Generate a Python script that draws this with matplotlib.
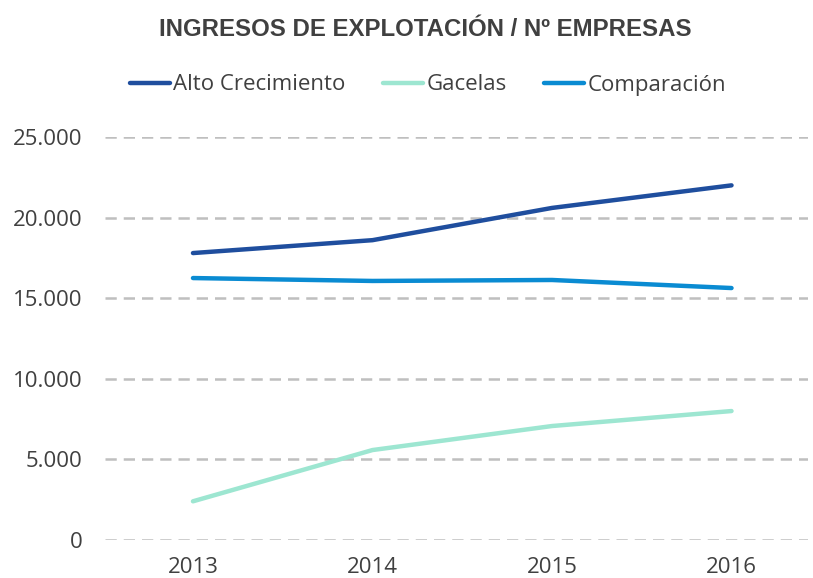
import matplotlib
matplotlib.use("Agg")
import matplotlib.pyplot as plt
from matplotlib.ticker import FuncFormatter

years = ["2013", "2014", "2015", "2016"]
alto_crecimiento = [17800, 18600, 20600, 22000]
gacelas = [2400, 5580, 7070, 8000]
comparacion = [16250, 16070, 16130, 15630]
y_ticks = [0, 5000, 10000, 15000, 20000, 25000]

W, H = 813, 578
fig = plt.figure(figsize=(W / 100, H / 100), dpi=100)
ax = fig.add_axes([105 / W, (H - 540) / H, (808 - 105) / W, (540 - 137) / H])

x = range(len(years))
ax.plot(x, alto_crecimiento, color="#1f4e9e", lw=3.2, solid_capstyle="round",
        label="Alto Crecimiento", clip_on=False)
ax.plot(x, gacelas, color="#9de6d1", lw=3.2, solid_capstyle="round",
        label="Gacelas", clip_on=False)
ax.plot(x, comparacion, color="#0a8bd2", lw=3.2, solid_capstyle="round",
        label="Comparación", clip_on=False)

ax.set_xlim(-0.49, 3.426)
ax.set_ylim(0, 25000)
ax.set_xticks(list(x))
ax.set_xticklabels(years)
ax.set_yticks(y_ticks)
ax.yaxis.set_major_formatter(FuncFormatter(lambda v, p: f"{int(v):,}".replace(",", ".")))

# dashed horizontal gridlines only
ax.grid(axis="y", color="#bfbfbf", lw=1.8, linestyle=(0, (4.5, 2.8)))
ax.set_axisbelow(True)
for s in ax.spines.values():
    s.set_visible(False)
ax.tick_params(length=0, labelsize=16, labelcolor="#404040")
ax.tick_params(axis="y", pad=16)
ax.tick_params(axis="x", pad=12)
for lab in ax.get_xticklabels() + ax.get_yticklabels():
    lab.set_fontfamily("Open Sans")

fig.text(425 / W, 1 - 29 / H, "INGRESOS DE EXPLOTACIÓN / Nº EMPRESAS", ha="center", va="center",
         fontsize=17.3, fontweight="bold", color="#404040", family="Liberation Sans")

leg = fig.legend(loc="center", bbox_to_anchor=(428 / W, 1 - 85 / H), ncol=3, frameon=False,
                 prop={"family": "Open Sans", "size": 16}, handlelength=1.8,
                 handletextpad=0.15, columnspacing=1.7)
for t in leg.get_texts():
    t.set_color("#404040")

fig.savefig("out.png", dpi=100)
